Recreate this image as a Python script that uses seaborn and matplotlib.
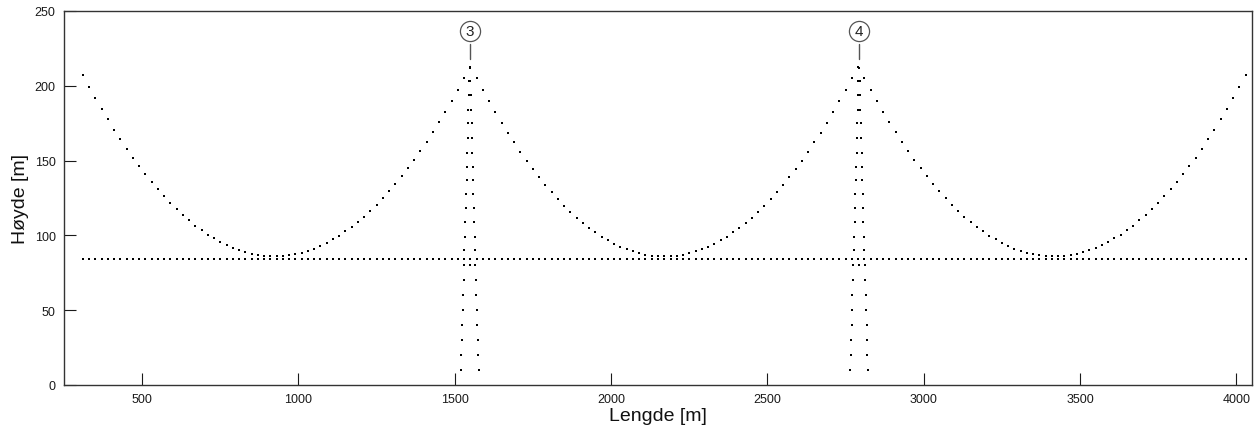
import matplotlib
matplotlib.use("Agg")
import matplotlib.pyplot as plt
import pandas as pd
import seaborn as sns

# ---- data ----
length_m = [
    310, 330, 350, 370, 390, 410, 430, 450, 470, 490,
    510, 530, 550, 570, 590, 610, 630, 650, 670, 690,
    710, 730, 750, 770, 790, 810, 830, 850, 870, 890,
    910, 930, 950, 970, 990, 1010, 1030, 1050, 1070, 1090,
    1110, 1130, 1150, 1170, 1190, 1210, 1230, 1250, 1270, 1290,
    1310, 1330, 1350, 1370, 1390, 1410, 1430, 1450, 1470, 1490,
    1510, 1530, 1550, 1570, 1590, 1610, 1630, 1650, 1670, 1690,
    1710, 1730, 1750, 1770, 1790, 1810, 1830, 1850, 1870, 1890,
    1910, 1930, 1950, 1970, 1990, 2010, 2030, 2050, 2070, 2090,
    2110, 2130, 2150, 2170, 2190, 2210, 2230, 2250, 2270, 2290,
    2310, 2330, 2350, 2370, 2390, 2410, 2430, 2450, 2470, 2490,
    2510, 2530, 2550, 2570, 2590, 2610, 2630, 2650, 2670, 2690,
    2710, 2730, 2750, 2770, 2790, 2810, 2830, 2850, 2870, 2890,
    2910, 2930, 2950, 2970, 2990, 3010, 3030, 3050, 3070, 3090,
    3110, 3130, 3150, 3170, 3190, 3210, 3230, 3250, 3270, 3290,
    3310, 3330, 3350, 3370, 3390, 3410, 3430, 3450, 3470, 3490,
    3510, 3530, 3550, 3570, 3590, 3610, 3630, 3650, 3670, 3690,
    3710, 3730, 3750, 3770, 3790, 3810, 3830, 3850, 3870, 3890,
    3910, 3930, 3950, 3970, 3990, 4010, 4030,
]

cable_height_m = [
    # side span 1 (310 - 1550)
    207.0, 199.2, 191.7, 184.5, 177.5, 170.7, 164.2, 158.0, 152.0, 146.3,
    140.9, 135.7, 130.8, 126.1, 121.7, 117.5, 113.6, 110.0, 106.6, 103.4,
    100.6, 98.0, 95.6, 93.5, 91.7, 90.1, 88.8, 87.7, 86.9, 86.3,
    86.1, 86.0, 86.2, 86.7, 87.5, 88.5, 89.7, 91.2, 93.0, 95.0,
    97.3, 99.9, 102.7, 105.7, 109.1, 112.6, 116.5, 120.6, 124.9, 129.5,
    134.4, 139.5, 144.9, 150.5, 156.4, 162.6, 169.0, 175.7, 182.6, 189.8,
    197.2, 204.9, 212.9,
    # main span (1570 - 2790)
    204.9, 197.1, 189.6, 182.3, 175.3, 168.6, 162.1, 155.9, 150.0, 144.3,
    138.9, 133.7, 128.8, 124.2, 119.8, 115.7, 111.9, 108.3, 105.0, 102.0,
    99.2, 96.7, 94.5, 92.5, 90.8, 89.3, 88.1, 87.2, 86.5, 86.1,
    86.0,
    86.1, 86.5, 87.2, 88.1, 89.3, 90.8, 92.5, 94.5, 96.7, 99.2,
    102.0, 105.0, 108.3, 111.9, 115.7, 119.8, 124.2, 128.8, 133.7, 138.9,
    144.3, 150.0, 155.9, 162.1, 168.6, 175.3, 182.3, 189.6, 197.1, 204.9,
    212.9,
    # side span 2 (2810 - 4030)
    204.9, 197.2, 189.8, 182.6, 175.7, 169.0, 162.6, 156.4, 150.5, 144.9,
    139.5, 134.4, 129.5, 124.9, 120.6, 116.5, 112.6, 109.1, 105.7, 102.7,
    99.9, 97.3, 95.0, 93.0, 91.2, 89.7, 88.5, 87.5, 86.7, 86.2,
    86.0, 86.1, 86.3, 86.9, 87.7, 88.8, 90.1, 91.7, 93.5, 95.6,
    98.0, 100.6, 103.4, 106.6, 110.0, 113.6, 117.5, 121.7, 126.1, 130.8,
    135.7, 140.9, 146.3, 152.0, 158.0, 164.2, 170.7, 177.5, 184.5, 191.7,
    199.2, 207.0,
]

deck_height_m = 84.2

tower_center_m = [1548, 2793]
tower_label = ["3", "4"]
tower_level_m = [10, 20, 30, 40, 50, 60, 70, 80, 90, 99, 109, 118, 128,
                 137, 146, 155, 165, 175, 184, 194, 203, 212]
tower_half_width_m = [28, 27, 25.5, 24, 22.5, 21, 19.5, 18, 17, 15.5, 14,
                      13, 11.5, 10, 9, 8, 6.5, 5.5, 4.5, 3.5, 2, 0]
tower_beam_level_m = 80

x_ticks = [500, 1000, 1500, 2000, 2500, 3000, 3500, 4000]
y_ticks = [0, 50, 100, 150, 200, 250]

# ---- build a tidy table ----
rows = []
for x, h in zip(length_m, cable_height_m):
    rows.append((x, h, "cable"))
for x in length_m:
    rows.append((x, deck_height_m, "deck"))
for c in tower_center_m:
    for lv, hw in zip(tower_level_m, tower_half_width_m):
        rows.append((c - hw, lv, "tower"))
        rows.append((c + hw, lv, "tower"))
    rows.append((c, tower_beam_level_m, "tower"))
df = pd.DataFrame(rows, columns=["Lengde", "Høyde", "del"])

# ---- plot ----
sns.set_theme(style="white")
plt.rcParams["font.family"] = ["Liberation Sans", "DejaVu Sans"]

fig = plt.figure(figsize=(12.57, 4.31), dpi=100)
ax = fig.add_axes([64 / 1257, 45 / 431, 1188 / 1257, 374 / 431])

sns.scatterplot(data=df, x="Lengde", y="Høyde", color="black", marker="s",
                s=3.8, linewidth=0, ax=ax, legend=False)

top = max(tower_level_m)
for c, lab in zip(tower_center_m, tower_label):
    ax.plot([c, c], [top + 6, top + 16], color="#555555", lw=1.0)
    ax.plot([c], [top + 24.6], marker="o", ms=14.5, mfc="white",
            mec="#555555", mew=0.9, ls="none")
    ax.text(c, top + 24.4, lab, ha="center", va="center", fontsize=11,
            color="#222222")

ax.set_xlim(250, 4050)
ax.set_ylim(0, 250)
ax.set_xticks(x_ticks)
ax.set_yticks(y_ticks)
ax.tick_params(direction="in", length=8.5, width=0.8, colors="#1a1a1a",
               labelsize=9, bottom=True, left=True, top=False, right=False,
               pad=6)
for sp in ax.spines.values():
    sp.set_visible(True)
    sp.set_color("#333333")
    sp.set_linewidth(1.0)

ax.set_xlabel("Lengde [m]", fontsize=14, color="#111111", labelpad=1)
ax.set_ylabel("Høyde [m]", fontsize=14, color="#111111", labelpad=4)

fig.savefig("out.png", dpi=100)
